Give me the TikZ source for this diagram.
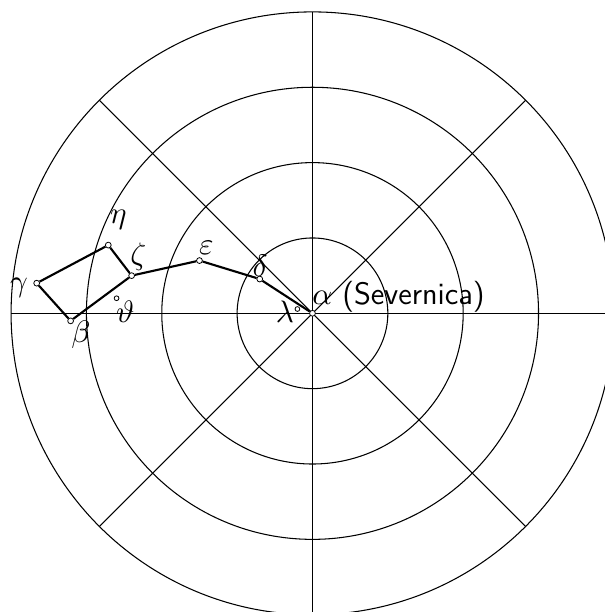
\RequirePackage{fix-cm}
\documentclass[tikz,border=0pt]{standalone}
\usepackage{amsmath,amssymb}
\usepackage{tikz}

\tikzset{
  star/.style={circle, draw, fill=white, inner sep=0pt, minimum size=2.2pt, line width=0.3pt},
  faint/.style={circle, draw, fill=white, inner sep=0pt, minimum size=1.8pt, line width=0.3pt},
  starlabel/.style={inner sep=0pt, font=\fontsize{11.7}{14}\selectfont}
}

\begin{document}
\begin{tikzpicture}[line width=0.4pt]
  \useasboundingbox (-4.147,-3.964) rectangle (3.882,4.158);
  \clip (-4.147,-3.964) rectangle (3.882,4.158);
  % Grid: circles and radial lines
  \foreach \r in {1,2,3,4} {
    \draw (0,0) circle (\r);
  }
  \foreach \a in {0,45,...,315} {
    \draw (0,0) -- (\a:4);
  }
  % Stars
  \node[star]  (alpha)   at (0,0) {};
  \node[star]  (beta)    at (-3.21,-0.1) {};
  \node[star]  (gamma)   at (-3.66,0.4) {};
  \node[star]  (delta)   at (-0.7,0.455) {};
  \node[star]  (epsilon) at (-1.5,0.7) {};
  \node[star]  (zeta)    at (-2.4,0.5) {};
  \node[star]  (eta)     at (-2.71,0.905) {};
  \node[faint] (theta)   at (-2.6,0.2) {};
  \node[faint] (lambda)  at (-0.2,0.057) {};
  % Constellation lines
  \draw[thick] (alpha) -- (delta) -- (epsilon) -- (zeta) -- (eta)
    -- (gamma) -- (beta) -- (zeta);
  % Labels
  \node[starlabel, anchor=west] (alphalab) at ([shift={(-0.01,0.226)}]alpha) {$\alpha$ \textsf{(Severnica)}};
  \node[starlabel] (betalab)    at ([shift={(0.137,-0.19)}]beta) {$\beta$};
  \node[starlabel] (gammalab)   at ([shift={(-0.235,-0.066)}]gamma) {$\gamma$};
  \node[starlabel] (deltalab)   at ([shift={(0.004,0.173)}]delta) {$\delta$};
  \node[starlabel] (epsilonlab) at ([shift={(0.093,0.17)}]epsilon) {$\varepsilon$};
  \node[starlabel] (zetalab)    at ([shift={(0.088,0.247)}]zeta) {$\zeta$};
  \node[starlabel] (etalab)     at ([shift={(0.133,0.332)}]eta) {$\eta$};
  \node[starlabel] (thetalab)   at ([shift={(0.115,-0.182)}]theta) {$\vartheta$};
  \node[starlabel] (lambdalab)  at ([shift={(-0.167,-0.036)}]lambda) {$\lambda$};
\end{tikzpicture}
\end{document}
